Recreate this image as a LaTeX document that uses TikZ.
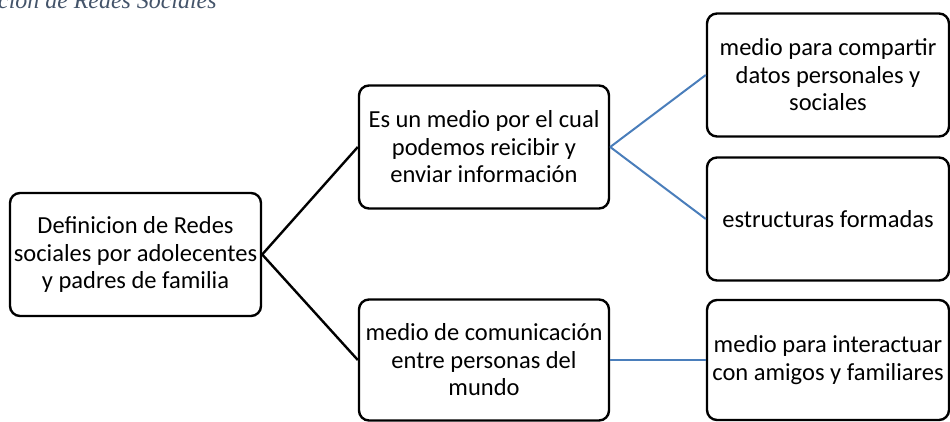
\documentclass[tikz,border=0pt]{standalone}
\usepackage{fontspec}
\setmainfont{Carlito}
\newfontfamily\capfont{Liberation Serif}
\usepackage{xcolor}
\usepackage{tikz}
\usetikzlibrary{positioning}

\definecolor{linkblue}{RGB}{74,126,187}
\definecolor{capgray}{RGB}{68,84,106}

\begin{document}
\begin{tikzpicture}[x=1pt, y=-1pt,
    box/.style={draw, line width=2.4pt, rounded corners=10pt, align=center,
        inner sep=0pt, font=\fontsize{24.5}{27.5}\selectfont},
    wide/.style={box, minimum width=251pt, minimum height=123pt},
    side/.style={box, minimum width=242pt, minimum height=123pt},
    mainlink/.style={line width=2.4pt},
    sublink/.style={linkblue, line width=2pt}]
        \useasboundingbox (0,0) rectangle (950,422);
        \clip (0,0) rectangle (950,422);

        % Caption cut off at the top
        \node[anchor=base west, inner sep=0pt, text=capgray,
            font=\capfont\itshape\fontsize{23.9}{26}\selectfont] (caption) at (-2,9)
            {ción de Redes Sociales};

        % Root
        \node[wide] (root) at (135.5,254.5)
            {Definicion de Redes\\sociales por adolecentes\\y padres de familia};

        % Second level
        \node[wide, minimum width=250pt] (medio) at (484,147)
            {Es un medio por el cual\\podemos reicibir y\\enviar información};
        \node[wide, minimum width=250pt, minimum height=121pt] (comunica) at (484,360)
            {medio de comunicación\\entre personas del\\mundo};

        % Third level
        \node[side] (datos) at (828,75)
            {medio para compartir\\datos personales y\\sociales};
        \node[side] (estruct) at (828,219) {estructuras formadas};
        \node[side, minimum height=120pt] (amigos) at (828,360)
            {medio para interactuar\\con amigos y familiares};

        % Links
        \draw[mainlink] (root.east) -- (medio.west);
        \draw[mainlink] (root.east) -- (comunica.west);
        \draw[sublink] (medio.east) -- (datos.west);
        \draw[sublink] (medio.east) -- (estruct.west);
        \draw[sublink] (comunica.east) -- (amigos.west);
    \end{tikzpicture}
\end{document}
